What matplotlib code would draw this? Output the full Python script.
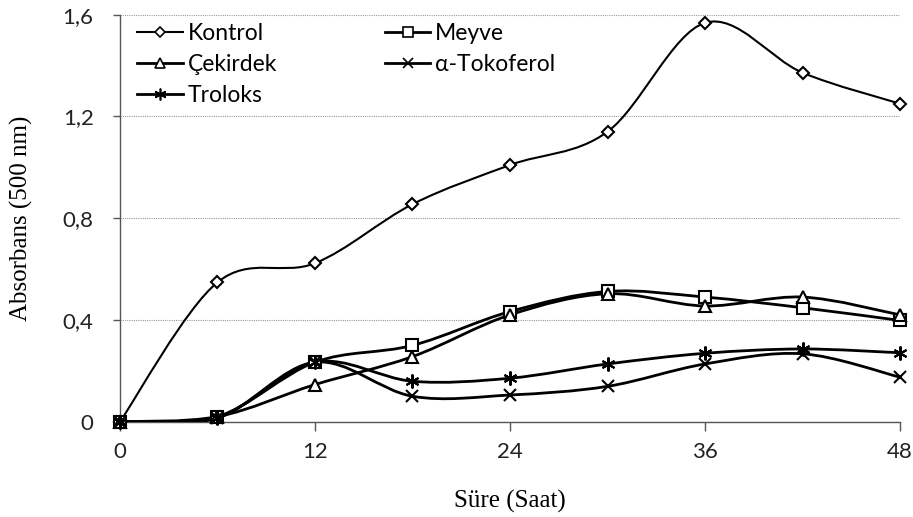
import matplotlib
matplotlib.use("Agg")
import matplotlib.pyplot as plt
import numpy as np
from matplotlib.path import Path
from matplotlib.patches import PathPatch
from matplotlib.lines import Line2D
from matplotlib.ticker import FuncFormatter

hours = [0, 6, 12, 18, 24, 30, 36, 42, 48]
kontrol = [0, 0.548, 0.623, 0.855, 1.009, 1.140, 1.568, 1.372, 1.250]
meyve = [0, 0.020, 0.234, 0.300, 0.433, 0.512, 0.490, 0.448, 0.398]
cekirdek = [0, 0.020, 0.146, 0.256, 0.420, 0.503, 0.455, 0.490, 0.420]
tokoferol = [0, 0.015, 0.234, 0.100, 0.105, 0.139, 0.227, 0.267, 0.175]
troloks = [0, 0.015, 0.234, 0.159, 0.171, 0.227, 0.269, 0.286, 0.271]

series_names = ["Kontrol", "Meyve", "Çekirdek", "α-Tokoferol", "Troloks"]
x_ticks = [0, 12, 24, 36, 48]
y_ticks = [0, 0.4, 0.8, 1.2, 1.6]

asterisk = (6, 2, 0)
styles = {
    "Kontrol": dict(marker="D", ms=6.5, lw=1.5),
    "Meyve": dict(marker="s", ms=8.5, lw=2.0),
    "Çekirdek": dict(marker="^", ms=9, lw=2.0),
    "α-Tokoferol": dict(marker="x", ms=9, lw=2.0),
    "Troloks": dict(marker=asterisk, ms=10, lw=2.0),
}
data = dict(zip(series_names, [kontrol, meyve, cekirdek, tokoferol, troloks]))


def smooth_path(xs, ys):
    p = np.column_stack([xs, ys]).astype(float)
    n = len(p)
    verts = [p[0]]
    codes = [Path.MOVETO]
    for i in range(n - 1):
        p0 = p[i - 1] if i > 0 else p[i]
        p1 = p[i]
        p2 = p[i + 1]
        p3 = p[i + 2] if i + 2 < n else p[i + 1]
        c1 = p1 + (p2 - p0) / 6.0
        c2 = p2 - (p3 - p1) / 6.0
        verts += [c1, c2, p2]
        codes += [Path.CURVE4] * 3
    return Path(verts, codes)


fig = plt.figure(figsize=(9.13, 5.17), dpi=100)
ax = fig.add_axes([0.1314, 0.1843, 0.8544, 0.7873])

handles = {}
for name in series_names:
    st = styles[name]
    ys = data[name]
    patch = PathPatch(smooth_path(hours, ys), transform=ax.transData,
                      facecolor="none", edgecolor="black", lw=st["lw"], zorder=3)
    ax.add_patch(patch)
    mfc = "white" if st["marker"] in ("D", "s", "^") else "black"
    ax.plot(hours, ys, linestyle="none", marker=st["marker"], ms=st["ms"],
            mfc=mfc, mec="black", mew=1.5, zorder=4, clip_on=False)
    handles[name] = Line2D([], [], color="black", lw=st["lw"], marker=st["marker"],
                           ms=st["ms"] * 0.85, mfc=mfc, mec="black", mew=1.2)

ax.set_xlim(0, 48)
ax.set_ylim(0, 1.6)
ax.set_xticks(x_ticks)
ax.set_yticks(y_ticks)
ax.yaxis.set_major_formatter(FuncFormatter(lambda v, p: ("%g" % v).replace(".", ",")))
ax.grid(axis="y", color="#999999", linestyle=(0, (1, 1)), lw=0.8)
ax.set_axisbelow(True)
for s in ["top", "right"]:
    ax.spines[s].set_visible(False)
for s in ["left", "bottom"]:
    ax.spines[s].set_color("#555555")
    ax.spines[s].set_linewidth(1.0)
ax.tick_params(axis="y", direction="out", length=5, width=1.0, color="#555555",
               labelsize=16, labelcolor="#222222", pad=14)
ax.tick_params(axis="x", direction="out", length=6.5, width=1.0, color="#555555",
               labelsize=16, labelcolor="#222222", pad=8)
for lab in ax.get_xticklabels() + ax.get_yticklabels():
    lab.set_family("Lato")

ax.set_xlabel("Süre (Saat)", family="Liberation Serif", fontsize=18)
ax.xaxis.set_label_coords(0.5, -0.168)
ax.set_ylabel("Absorbans (500 nm)", family="Liberation Serif", fontsize=18)
ax.yaxis.set_label_coords(-0.111, 0.5)

order = ["Kontrol", "Çekirdek", "Troloks", "Meyve", "α-Tokoferol"]
leg = ax.legend([handles[k] for k in order], order, ncol=2, loc="upper left",
                frameon=False, bbox_to_anchor=(0.022, 0.98),
                prop=dict(family="Lato", size=16.5),
                handlelength=2.0, handletextpad=0.2, columnspacing=4.7,
                labelspacing=0.45, borderaxespad=0.0, borderpad=0.0)

fig.savefig("out.png", dpi=100)
